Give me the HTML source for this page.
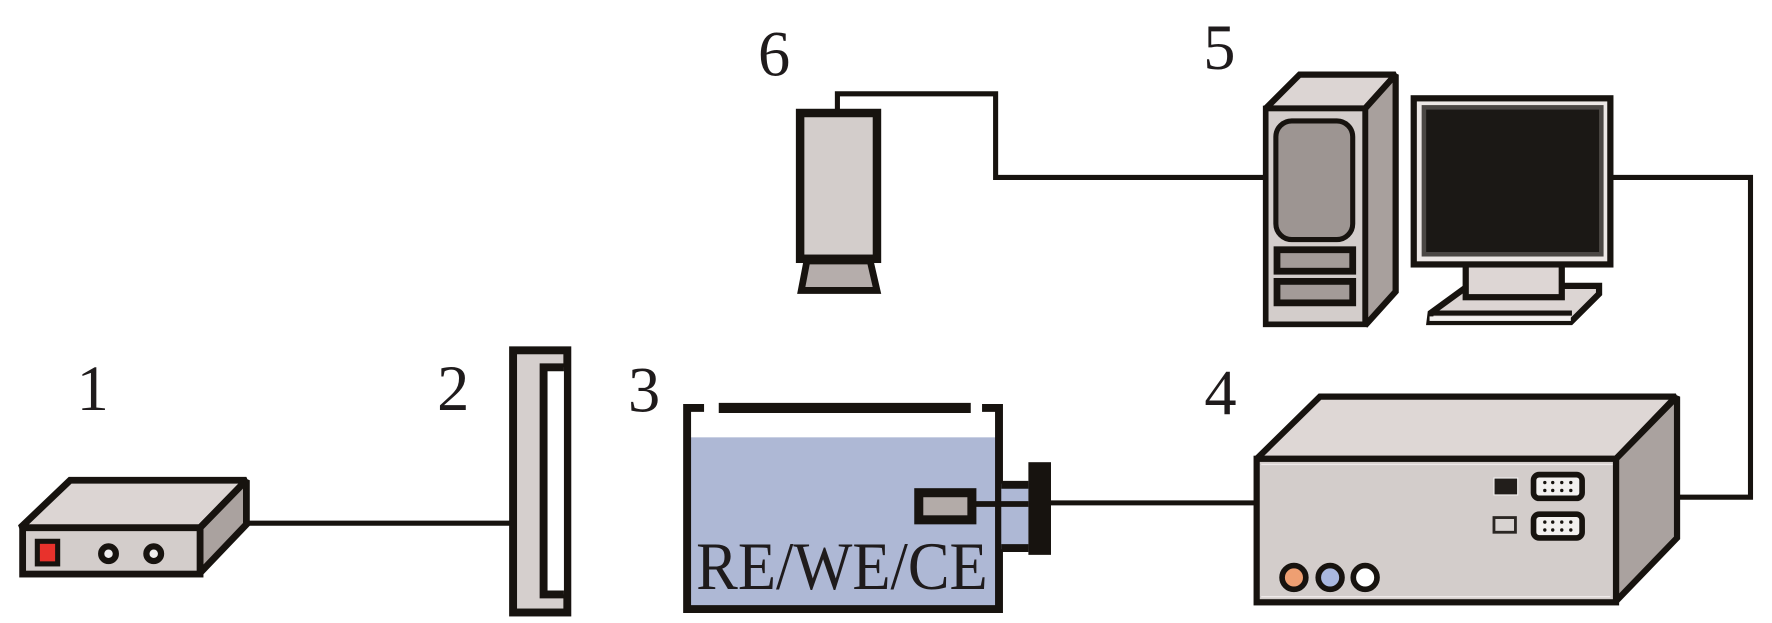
<!DOCTYPE html>
<html><head><meta charset="utf-8"><style>
html,body{margin:0;padding:0;background:#fff;width:1772px;height:623px;overflow:hidden}
svg{display:block}
text{font-family:"Liberation Serif",serif;fill:#1f1b1c}
</style></head><body>
<svg width="1772" height="623" viewBox="0 0 1568 551.3" xmlns="http://www.w3.org/2000/svg">
<g stroke="#17130f" stroke-linejoin="miter" stroke-miterlimit="2" fill="none">
<!-- wires -->
<path d="M218 463H452" stroke-width="4.5"/>
<path d="M930 445H1110" stroke-width="4.5"/>
<path d="M1484 440H1549V157H1425" stroke-width="4.5"/>
<path d="M1120 157H881V83H741V98" stroke-width="4.5"/>

<!-- 1 -->
<path d="M18 467L62 425H218L177 467Z" fill="#dcd5d3" stroke-width="6"/>
<path d="M177 467L218 425V464L177 507Z" fill="#aaa29f" stroke-width="6"/>
<rect x="20" y="467" width="157" height="41" fill="#d3cdcb" stroke-width="6"/>
<rect x="33" y="479" width="18" height="20" fill="#e8322c" stroke-width="4.5"/>
<circle cx="96" cy="490" r="6.5" fill="#f0eeee" stroke-width="5.5"/>
<circle cx="136" cy="490" r="6.5" fill="#f0eeee" stroke-width="5.5"/>

<!-- 2 -->
<rect x="454" y="310" width="48" height="232" fill="#d5cfcd" stroke-width="7"/>
<path d="M499 325H481V526H499" fill="#fff" stroke-width="7"/>
<rect x="485" y="332" width="13" height="187" fill="#fff" stroke="none"/>

<!-- 3 -->
<rect x="609" y="387" width="274" height="149" fill="#aeb8d5" stroke="none"/>
<path d="M623 361H608V539H884V361H869" stroke-width="7"/>
<path d="M636 361H859" stroke-width="9"/>
<rect x="886" y="428" width="24" height="58" fill="#aeb8d5" stroke="none"/>
<path d="M886 429H910M886 485H910" stroke-width="7"/>
<rect x="910" y="409" width="20" height="82" fill="#17130f" stroke="none"/>
<path d="M862 446H910" stroke-width="5"/>
<rect x="813" y="436" width="47" height="24" fill="#b3aba8" stroke-width="8"/>

<!-- 4 -->
<path d="M1112 406L1168 351H1483L1430 406Z" fill="#ded7d5" stroke-width="5.5"/>
<path d="M1430 406L1484 351V476L1430 532Z" fill="#aaa29f" stroke-width="5.5"/>
<rect x="1112" y="406" width="318" height="127" fill="#d3cdcb" stroke-width="5.5"/>
<path d="M1116 411H1427M1116 528H1425" stroke="#efeaea" stroke-width="1.2"/>
<rect x="1322" y="423" width="21" height="15" fill="#221e1b" stroke="#f3f0ef" stroke-width="1"/>
<rect x="1322" y="458" width="19" height="13" fill="#d8d3d1" stroke="#2a2623" stroke-width="2.5"/>
<rect x="1357" y="420" width="43" height="21" rx="5" fill="#f2f0ef" stroke-width="5"/>
<rect x="1357" y="455" width="43" height="21" rx="5" fill="#f2f0ef" stroke-width="5"/>
<g fill="#17130f" stroke="none">
<circle cx="1367" cy="427" r="1.5"/><circle cx="1374" cy="427" r="1.5"/><circle cx="1382" cy="427" r="1.5"/><circle cx="1390" cy="427" r="1.5"/>
<circle cx="1367" cy="434" r="1.5"/><circle cx="1374" cy="434" r="1.5"/><circle cx="1382" cy="434" r="1.5"/><circle cx="1390" cy="434" r="1.5"/>
<circle cx="1367" cy="462" r="1.5"/><circle cx="1374" cy="462" r="1.5"/><circle cx="1382" cy="462" r="1.5"/><circle cx="1390" cy="462" r="1.5"/>
<circle cx="1367" cy="469" r="1.5"/><circle cx="1374" cy="469" r="1.5"/><circle cx="1382" cy="469" r="1.5"/><circle cx="1390" cy="469" r="1.5"/>
</g>
<circle cx="1145" cy="511" r="10.5" fill="#ee9f72" stroke-width="5"/>
<circle cx="1177" cy="511" r="10.5" fill="#a9b8e0" stroke-width="5"/>
<circle cx="1208" cy="511" r="10.5" fill="#fff" stroke-width="5"/>

<!-- 5 tower -->
<path d="M1120 96L1150 66H1235L1208 96Z" fill="#dcd5d3" stroke-width="5.5"/>
<path d="M1208 96L1235 66V258L1208 288Z" fill="#a8a09d" stroke-width="5.5"/>
<rect x="1120" y="96" width="88" height="191" fill="#d3cdcb" stroke-width="5"/>
<rect x="1129" y="107" width="68" height="105" rx="14" fill="#9d9592" stroke-width="4.5"/>
<rect x="1130" y="221" width="67" height="19" fill="#a39b98" stroke-width="6"/>
<rect x="1130" y="249" width="67" height="19" fill="#a39b98" stroke-width="6"/>

<!-- monitor -->
<path d="M1266 277L1299 253H1415V260L1390 285H1265Z" fill="#dcd5d3" stroke-width="5.5"/>
<path d="M1265 277H1391" stroke-width="4.5"/>
<rect x="1265" y="280" width="125" height="4" fill="#f3f0ef" stroke="none"/>
<rect x="1297" y="232" width="85" height="31" fill="#ddd6d4" stroke-width="5.5"/>
<rect x="1251" y="87" width="174" height="147" fill="#ece7e5" stroke-width="5.5"/>
<rect x="1260" y="95" width="157" height="130" fill="#1b1815" stroke="#4b4744" stroke-width="4"/>

<!-- 6 -->
<rect x="708" y="100" width="68" height="129" fill="#d3cdcb" stroke-width="7.5"/>
<path d="M714 231H770L776 257H709Z" fill="#b5adab" stroke-width="6"/>
</g>
<g font-size="57">
<text x="82" y="363" text-anchor="middle">1</text>
<text x="401" y="363" text-anchor="middle">2</text>
<text x="570" y="364" text-anchor="middle">3</text>
<text x="1080" y="367" text-anchor="middle">4</text>
<text x="1079" y="61" text-anchor="middle">5</text>
<text x="685" y="67" text-anchor="middle">6</text>
</g>
<text x="616" y="521" font-size="60" textLength="258" lengthAdjust="spacingAndGlyphs">RE/WE/CE</text>
</svg>
</body></html>
